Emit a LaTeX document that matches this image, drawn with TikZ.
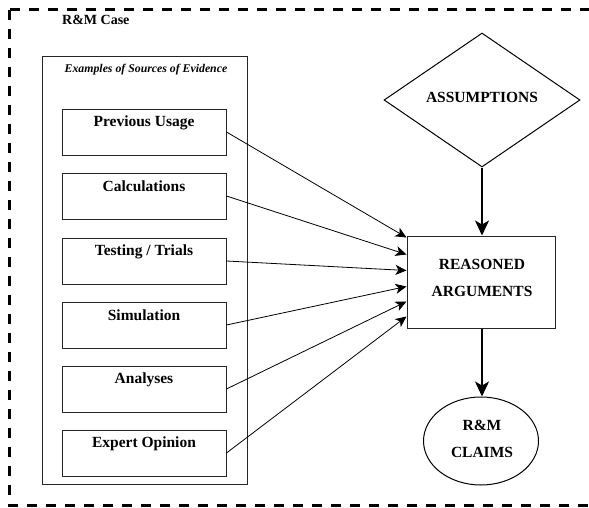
\documentclass[tikz,border=0pt]{standalone}
\usepackage{fontspec}
\setmainfont{Liberation Serif}
\usetikzlibrary{shapes.geometric,arrows.meta,calc}

\tikzset{
  frame/.style={draw=black, line width=3pt, dash pattern=on 10pt off 9pt},
  panel/.style={draw=black!85, line width=0.9pt},
  srcbox/.style={draw=black!85, line width=0.9pt, minimum width=164pt, minimum height=46pt, inner sep=0pt},
  srctext/.style={font=\fontsize{15.5}{18}\selectfont\bfseries, inner sep=0pt},
  bigtext/.style={font=\fontsize{15.5}{27}\selectfont\bfseries, align=center, inner sep=0pt},
  feed/.style={draw=black, line width=0.8pt, -{Stealth[length=11pt,width=10pt,inset=3pt]}},
  flow/.style={draw=black, line width=1.5pt, -{Stealth[length=15pt,width=14pt,inset=4pt]}}
}

\begin{document}
\begin{tikzpicture}[x=1pt, y=-1pt]
\useasboundingbox (0,0) rectangle (589,508);
\clip (0,0) rectangle (589,508);

% outer dashed case boundary
\draw[frame] (9,10) rectangle (593,505);
\node[anchor=west, font=\fontsize{14}{16}\selectfont\bfseries, inner sep=0pt] (casetitle) at (62,20) {R\&M Case};

% evidence panel
\node[panel, minimum width=205pt, minimum height=428pt, inner sep=0pt] (panel) at (144.5,270) {};
\node[font=\fontsize{11.8}{14}\selectfont\bfseries\itshape, inner sep=0pt] (paneltitle) at (146,70) {Examples of Sources of Evidence};

% evidence sources
\node[srcbox] (s1) at (144,132) {};
\node[srcbox] (s2) at (144,196) {};
\node[srcbox] (s3) at (144,261) {};
\node[srcbox] (s4) at (144,325) {};
\node[srcbox] (s5) at (144,389) {};
\node[srcbox] (s6) at (144,453) {};
\node[srctext] (t1) at ([yshift=-14pt]s1.north) {Previous Usage};
\node[srctext] (t2) at ([yshift=-14pt]s2.north) {Calculations};
\node[srctext] (t3) at ([yshift=-14pt]s3.north) {Testing / Trials};
\node[srctext] (t4) at ([yshift=-14pt]s4.north) {Simulation};
\node[srctext] (t5) at ([yshift=-14pt]s5.north) {Analyses};
\node[srctext] (t6) at ([yshift=-14pt]s6.north) {Expert Opinion};

% assumptions, arguments and claims
\node[diamond, draw=black, line width=1pt, minimum width=196pt, minimum height=134pt, inner sep=0pt] (assume) at (482,100) {};
\node[bigtext] (assumetext) at (482,97) {ASSUMPTIONS};

\node[draw=black!85, line width=1pt, minimum width=148pt, minimum height=92pt, inner sep=0pt] (args) at (481,282) {};
\node[bigtext] (argstext) at (482,278) {REASONED\\ARGUMENTS};

\node[ellipse, draw=black, line width=1pt, minimum width=115pt, minimum height=88pt, inner sep=0pt] (claims) at (481,441) {};
\node[bigtext] (claimstext) at (482,439) {R\&M\\CLAIMS};

% arrow targets along the left side of the arguments box
\coordinate (in1) at ([yshift=-2pt]args.north west);
\coordinate (in2) at ([yshift=-19pt]args.north west);
\coordinate (in3) at ([yshift=-35pt]args.north west);
\coordinate (in4) at ([yshift=-51pt]args.north west);
\coordinate (in5) at ([yshift=-66pt]args.north west);
\coordinate (in6) at ([yshift=-81pt]args.north west);

\draw[feed] (s1.east) -- (in1);
\draw[feed] (s2.east) -- (in2);
\draw[feed] (s3.east) -- (in3);
\draw[feed] (s4.east) -- (in4);
\draw[feed] (s5.east) -- (in5);
\draw[feed] (s6.east) -- (in6);

\draw[flow] (assume.south) -- (assume.south |- args.north);
\draw[flow] (assume.south |- args.south) -- (assume.south |- claims.north);
\end{tikzpicture}
\end{document}
